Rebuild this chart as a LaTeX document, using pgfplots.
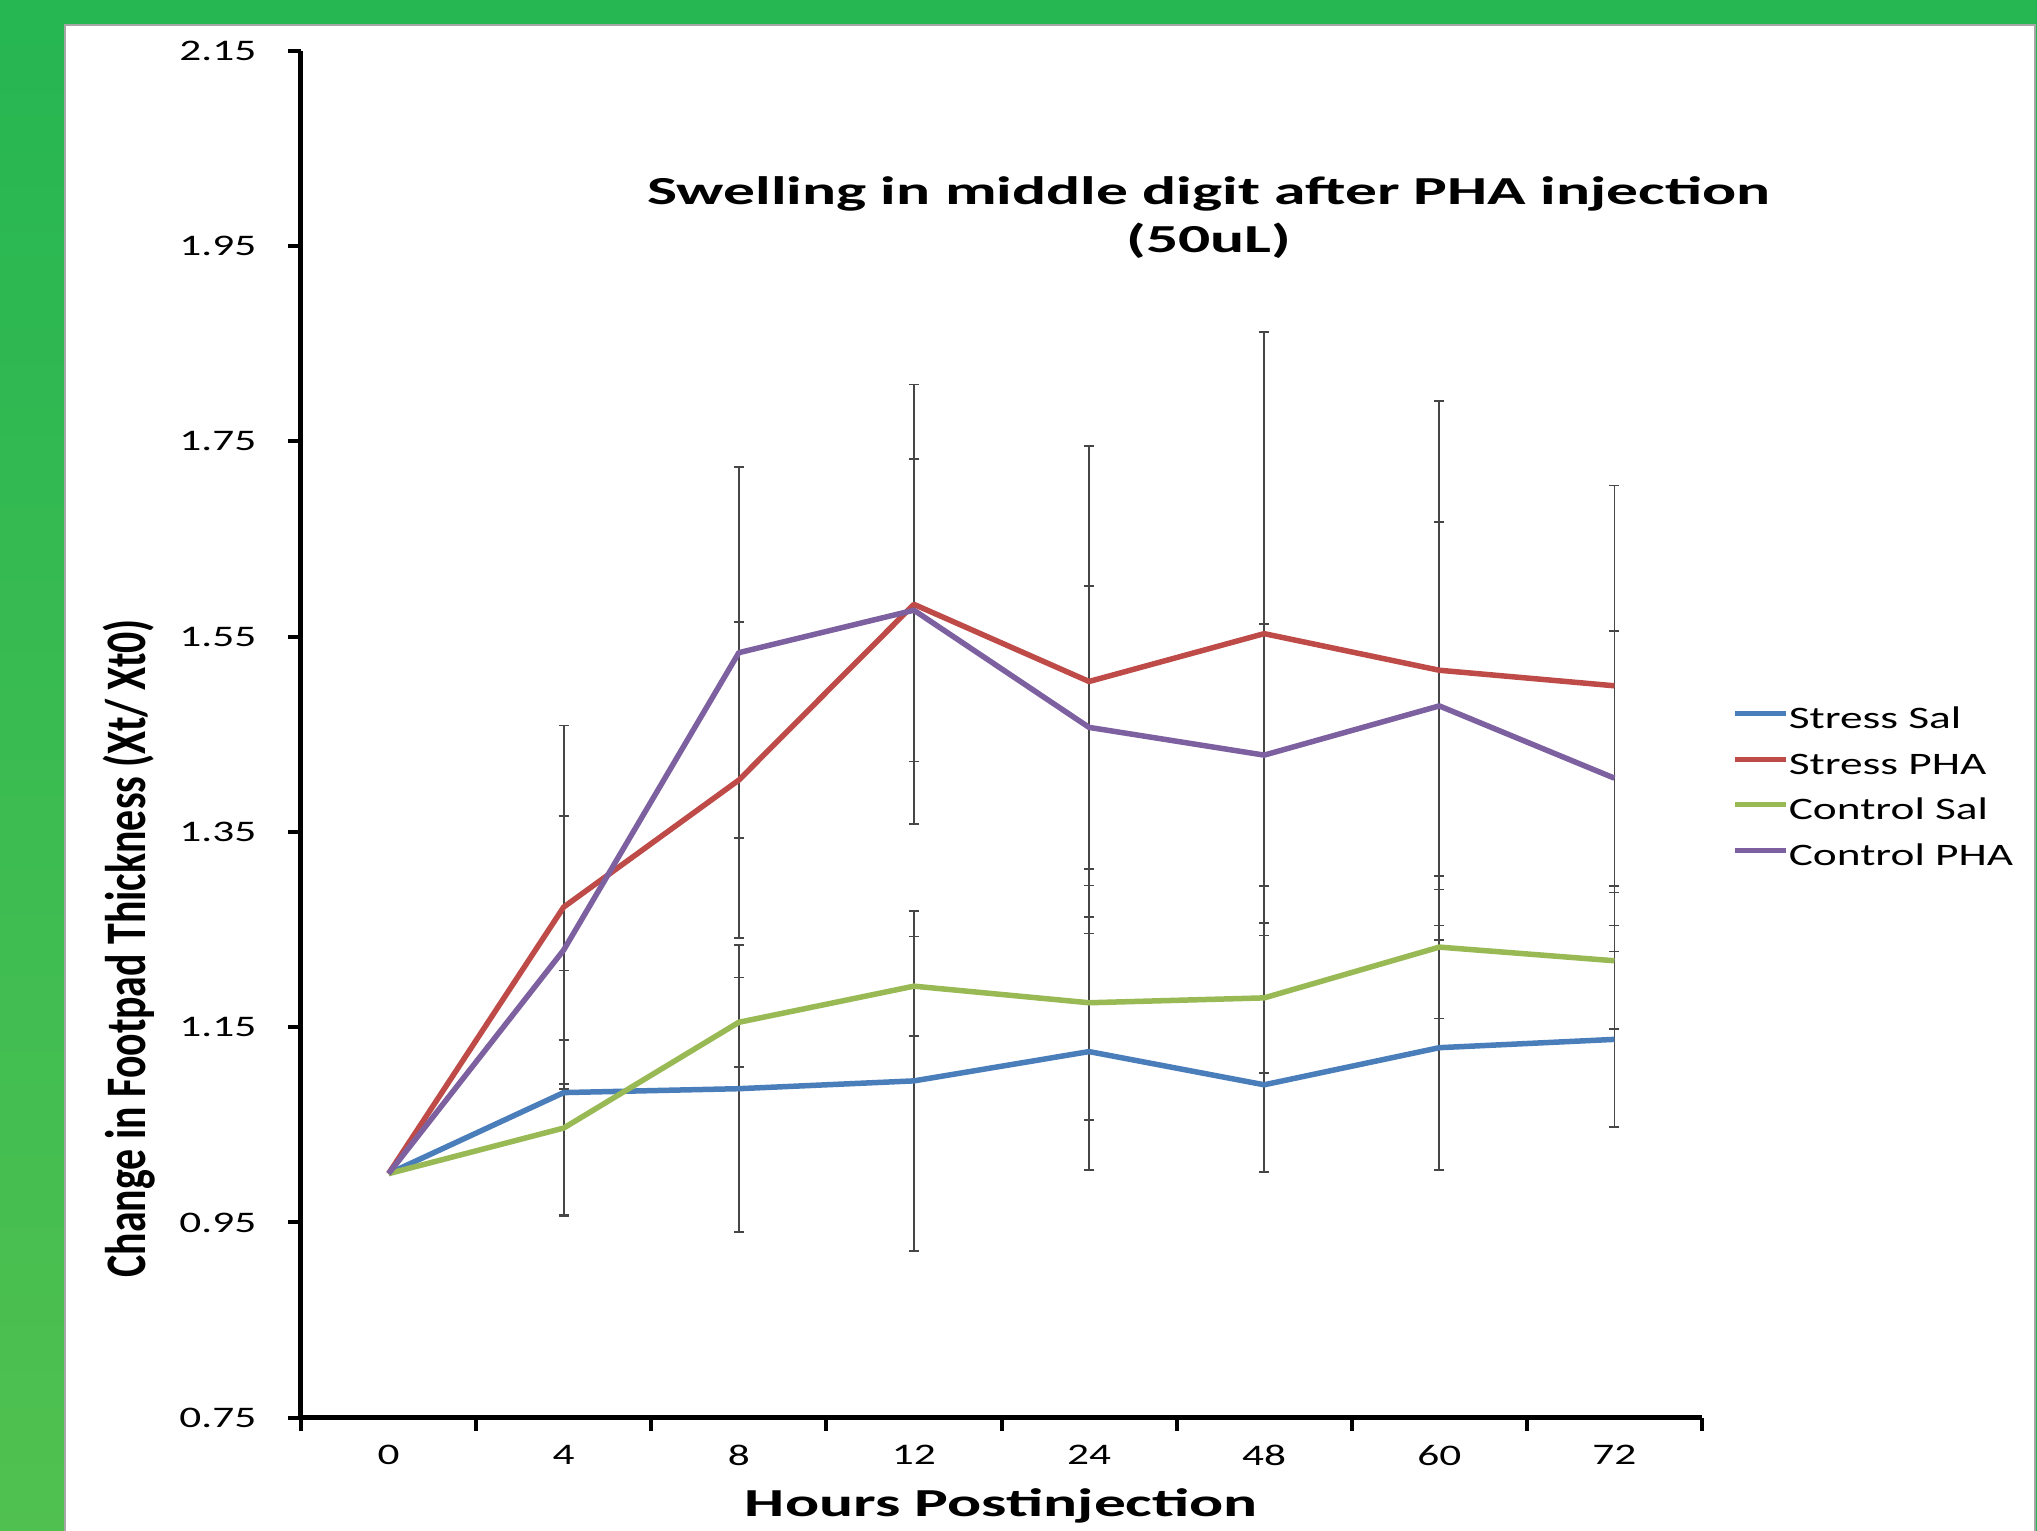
\documentclass[border=0pt]{standalone}
\usepackage{fontspec}
\setmainfont{Carlito}[FakeStretch=1.45]
\newfontfamily\ylabfont{Carlito}[FakeStretch=0.73]
\newfontfamily\titlefont{Carlito}[FakeStretch=1.6]
\usepackage{pgfplots}
\usepackage{pgfplotstable}
\pgfplotsset{compat=1.18}

\definecolor{sblue}{RGB}{74,126,187}
\definecolor{sred}{RGB}{190,75,72}
\definecolor{sgreen}{RGB}{152,185,84}
\definecolor{spurple}{RGB}{125,96,160}
\definecolor{bggreen}{RGB}{38,182,82}
\definecolor{bggreen2}{RGB}{80,193,80}
\definecolor{errgray}{RGB}{70,70,70}

\pgfplotstableread{
x y e
0 1.000 0
1 1.083 0.125
2 1.087 0.147
3 1.095 0.174
4 1.125 0.121
5 1.091 0.089
6 1.129 0.125
7 1.1375 0.090
}\stresssal

\pgfplotstableread{
x y e
0 1.000 0
1 1.273 0.186
2 1.403 0.162
3 1.583 0.225
4 1.504 0.241
5 1.553 0.309
6 1.5155 0.276
7 1.4996 0.205
}\stresspha

\pgfplotstableread{
x y e
0 1.000 0
1 1.0467 0.090
2 1.155 0.046
3 1.192 0.051
4 1.175 0.120
5 1.180 0.077
6 1.232 0.073
7 1.218 0.070
}\controlsal

\pgfplotstableread{
x y e
0 1.000 0
1 1.229 0.137
2 1.5335 0.190
3 1.577 0.155
4 1.457 0.145
5 1.4286 0.134
6 1.479 0.188
7 1.405 0.151
}\controlpha

\begin{document}
\begin{tikzpicture}
% background frame
\fill[bggreen] (0,0) rectangle (203.7mm,153.1mm);
\shade[top color=bggreen, bottom color=bggreen2] (0,0) rectangle (6.5mm,150.6mm);
\fill[white] (6.5mm,0) rectangle (203.5mm,150.6mm);
\draw[gray!70, line width=0.25mm] (6.5mm,0) -- (6.5mm,150.6mm) -- (203.5mm,150.6mm) -- (203.5mm,0);

\begin{axis}[
  at={(30.1mm,11.32mm)}, anchor=south west,
  scale only axis, width=140.1mm, height=136.71mm,
  xmin=-0.5, xmax=7.5, ymin=0.75, ymax=2.15,
  axis x line=bottom, axis y line=left,
  axis line style={-, line width=0.5mm, black},
  xtick={-0.5,0.5,...,7.5},
  xticklabels={0,4,8,12,24,48,60,72},
  x tick label as interval,
  ytick={0.75,0.95,1.15,1.35,1.55,1.75,1.95,2.15},
  yticklabels={0.75,0.95,1.15,1.35,1.55,1.75,1.95,2.15},
  tick align=outside, major tick length=1.3mm,
  tick style={line width=0.4mm, black},
  minor tick num=0,
  ticklabel style={font=\fontsize{8.5}{10}\selectfont, inner sep=0pt},
  yticklabel style={anchor=east, xshift=-3.1mm},
  xticklabel style={anchor=north, yshift=-1.4mm},
  clip=false,
  xlabel={\titlefont\bfseries Hours Postinjection},
  xlabel style={at={(0.5,-0.0723)}, anchor=base, font=\fontsize{11.3}{13}\selectfont, inner sep=0pt},
  ylabel={\ylabfont\bfseries Change in Footpad Thickness (Xt/ Xt0)},
  ylabel style={at={(-0.1224,0.3433)}, anchor=center, font=\fontsize{16.3}{18}\selectfont, inner sep=0pt},
  title={\titlefont\bfseries Swelling in middle digit after PHA injection},
  title style={at={(0.648,0.8718)}, anchor=base, font=\fontsize{11.3}{13}\selectfont, inner sep=0pt},
  legend style={at={(1.0215,0.4597)}, anchor=west, draw=none, fill=none, inner sep=0pt,
    font=\fontsize{8.9}{10}\selectfont, row sep=1.85mm, column sep=0pt,
    nodes={inner sep=0pt, text height=2.1mm, text depth=0.6mm}},
  legend cell align=left,
  legend image code/.code={\draw[#1, line width=0.5mm] (0mm,0.75mm) -- (5.1mm,0.75mm);},
  error bars/error bar style={line width=0.17mm, draw=errgray},
  error bars/error mark options={line width=0.17mm, draw=errgray, mark size=0.5mm, rotate=90},
]
% error bars
\addplot[forget plot, draw=none, mark=none, skip coords between index={0}{1},
  error bars/.cd, y dir=both, y explicit] table[x=x, y=y, y error=e] {\stresssal};
\addplot[forget plot, draw=none, mark=none, skip coords between index={0}{1},
  error bars/.cd, y dir=both, y explicit] table[x=x, y=y, y error=e] {\stresspha};
\addplot[forget plot, draw=none, mark=none, skip coords between index={0}{1},
  error bars/.cd, y dir=both, y explicit] table[x=x, y=y, y error=e] {\controlsal};
\addplot[forget plot, draw=none, mark=none, skip coords between index={0}{1},
  error bars/.cd, y dir=both, y explicit] table[x=x, y=y, y error=e] {\controlpha};
% lines
\addplot[sblue, line width=0.55mm, no marks, line join=round] table[x=x, y=y] {\stresssal};
\addlegendentry{Stress Sal}
\addplot[sred, line width=0.55mm, no marks, line join=round] table[x=x, y=y] {\stresspha};
\addlegendentry{Stress PHA}
\addplot[sgreen, line width=0.55mm, no marks, line join=round] table[x=x, y=y] {\controlsal};
\addlegendentry{Control Sal}
\addplot[spurple, line width=0.55mm, no marks, line join=round] table[x=x, y=y] {\controlpha};
\addlegendentry{Control PHA}
\node[anchor=base, font=\titlefont\bfseries\fontsize{11.3}{13}\selectfont, inner sep=0pt] at (rel axis cs:0.648,0.852) {(50uL)};
\end{axis}
\pgfresetboundingbox
\useasboundingbox (0,0) rectangle (203.7mm,153.1mm);
\end{tikzpicture}
\end{document}
